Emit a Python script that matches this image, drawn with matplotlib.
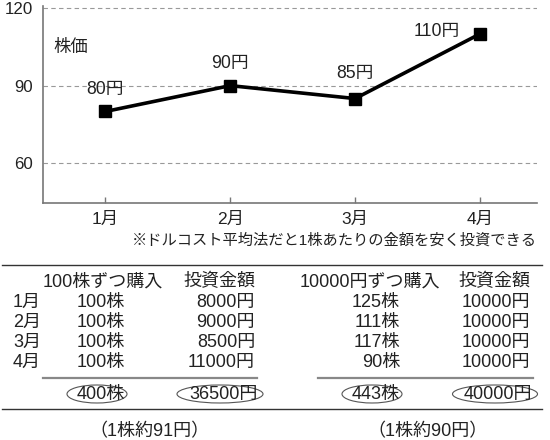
import matplotlib
matplotlib.use('Agg')
import matplotlib.pyplot as plt
from matplotlib.patches import Ellipse

plt.rcParams['font.family'] = ['Liberation Sans', 'Noto Sans CJK JP', 'DejaVu Sans']

# ---- data ----
months = ['1月', '2月', '3月', '4月']
prices = [80, 90, 85, 110]
price_labels = ['80円', '90円', '85円', '110円']
yticks = [60, 90, 120]
y_label = '株価'
note = '※ドルコスト平均法だと1株あたりの金額を安く投資できる'

header_fixed = '100株ずつ購入'
header_dca = '10000円ずつ購入'
header_amount = '投資金額'
fixed_shares = ['100株', '100株', '100株', '100株']
fixed_amounts = ['8000円', '9000円', '8500円', '11000円']
fixed_total_shares = '400株'
fixed_total_amount = '36500円'
fixed_avg = '（1株約91円）'
dca_shares = ['125株', '111株', '117株', '90株']
dca_amounts = ['10000円', '10000円', '10000円', '10000円']
dca_total_shares = '443株'
dca_total_amount = '40000円'
dca_avg = '（1株約90円）'

TXT = '#222222'
W, H = 550, 440

fig = plt.figure(figsize=(5.5, 4.4), dpi=100)

# ---- chart ----
ax = fig.add_axes([43 / W, 1 - 203 / H, (537 - 43) / W, (203 - 6) / H])
x = list(range(1, len(months) + 1))
ax.plot(x, prices, color='black', lw=2.6, marker='s', markersize=8.5,
        solid_joinstyle='miter', zorder=3)
ax.set_xlim(0.5, 4.457)
ax.set_ylim(44.6, 120.8)
ax.set_xticks(x)
ax.set_xticklabels(months)
ax.set_yticks(yticks)
ax.yaxis.grid(True, color='#999999', lw=0.8, dashes=(4, 3))
ax.set_axisbelow(True)
for s in ['top', 'right']:
    ax.spines[s].set_visible(False)
for s in ['left', 'bottom']:
    ax.spines[s].set_color('#777777')
    ax.spines[s].set_linewidth(1.2)
ax.tick_params(axis='x', direction='in', length=4.5, width=1, color='#777777',
               pad=6, labelsize=12.5, labelcolor=TXT)
ax.tick_params(axis='y', length=0, pad=7, labelsize=12.2, labelcolor=TXT)

label_offsets = [(0, 22), (0, 22), (0, 25), (-43, 2)]
for xi, yi, lab, off in zip(x, prices, price_labels, label_offsets):
    ax.annotate(lab, (xi, yi), xytext=off, textcoords='offset pixels',
                ha='center', va='center', fontsize=12.7, color=TXT)

# ---- overlay in pixel coords ----
ov = fig.add_axes([0, 0, 1, 1])
ov.set_xlim(0, W)
ov.set_ylim(H, 0)
ov.axis('off')

ov.text(53, 47, y_label, fontsize=12.5, color=TXT, ha='left', va='center')
ov.text(537, 241, note, fontsize=11.0, color=TXT, ha='right', va='center')

FS = 13
# lines
ov.plot([2, 542], [265.5, 265.5], color='#333333', lw=1.0)
ov.plot([2, 542], [409, 409], color='#333333', lw=1.0)
ov.plot([43, 257], [378, 378], color='#888888', lw=1.6)
ov.plot([318, 533], [378, 378], color='#888888', lw=1.6)

row_y = [302, 322, 342, 362]
# left table
ov.text(43, 282, header_fixed, fontsize=FS, color=TXT, ha='left', va='center')
ov.text(255, 282, header_amount, fontsize=FS, color=TXT, ha='right', va='center')
for yy, m, s, a in zip(row_y, months, fixed_shares, fixed_amounts):
    ov.text(13, yy, m, fontsize=FS, color=TXT, ha='left', va='center')
    ov.text(125, yy, s, fontsize=FS, color=TXT, ha='right', va='center')
    ov.text(255, yy, a, fontsize=FS, color=TXT, ha='right', va='center')
ov.text(125, 394, fixed_total_shares, fontsize=FS, color=TXT, ha='right', va='center')
ov.text(258, 394, fixed_total_amount, fontsize=FS, color=TXT, ha='right', va='center')
ov.text(150, 432, fixed_avg, fontsize=FS, color=TXT, ha='center', va='center')

# right table
ov.text(300, 282, header_dca, fontsize=FS, color=TXT, ha='left', va='center')
ov.text(530, 282, header_amount, fontsize=FS, color=TXT, ha='right', va='center')
for yy, s, a in zip(row_y, dca_shares, dca_amounts):
    ov.text(400, yy, s, fontsize=FS, color=TXT, ha='right', va='center')
    ov.text(530, yy, a, fontsize=FS, color=TXT, ha='right', va='center')
ov.text(400, 394, dca_total_shares, fontsize=FS, color=TXT, ha='right', va='center')
ov.text(532, 394, dca_total_amount, fontsize=FS, color=TXT, ha='right', va='center')
ov.text(428, 432, dca_avg, fontsize=FS, color=TXT, ha='center', va='center')

# ellipses
for cx, w in [(97, 60), (220, 86), (372, 60), (495, 85)]:
    ov.add_patch(Ellipse((cx, 394), w, 18, fill=False, edgecolor='#555555', lw=0.8))

fig.savefig('out.png', dpi=100)
